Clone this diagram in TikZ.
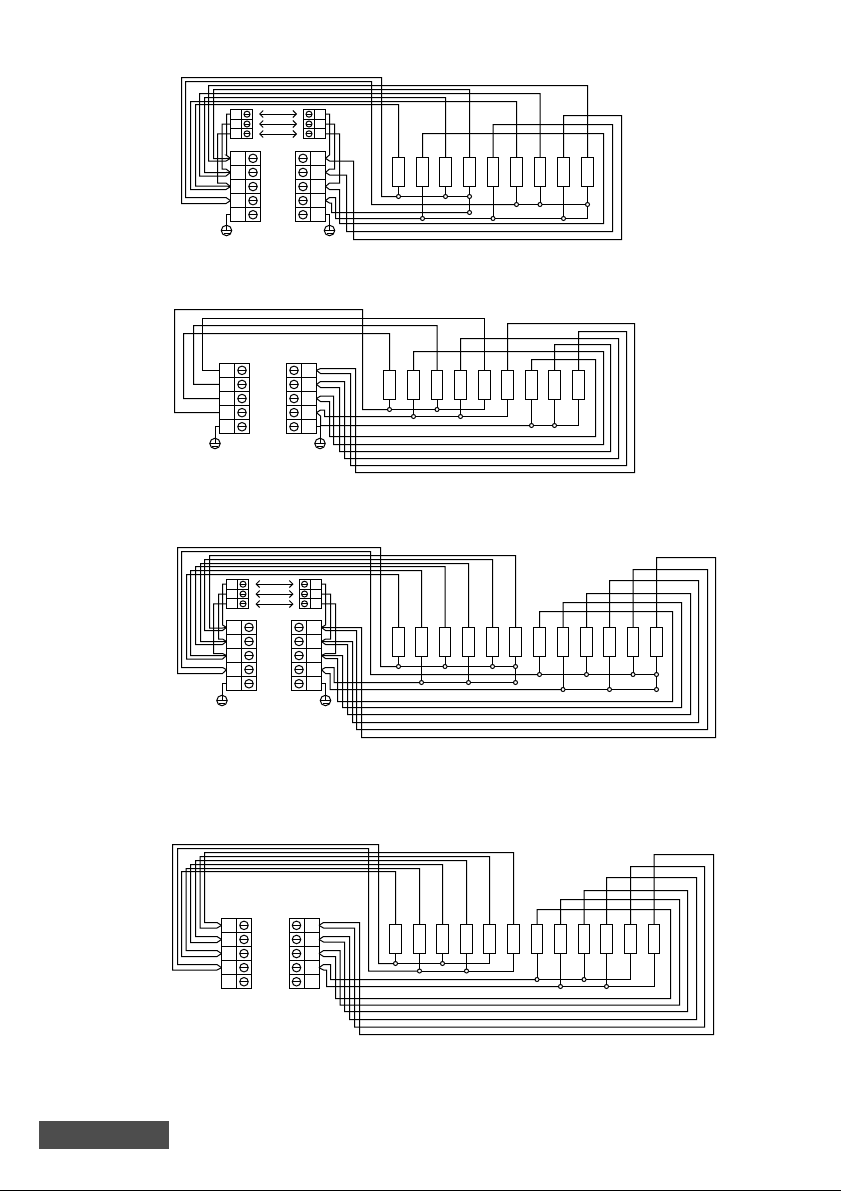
\documentclass[tikz,border=0pt]{standalone}
\usetikzlibrary{arrows.meta}
\tikzset{
  bigcell/.style={draw,minimum width=15pt,minimum height=14.1pt},
  smallcell/.style={draw,minimum width=11pt,minimum height=9.8pt},
  bigscrew/.style={draw,circle,minimum size=8.5pt,path picture={\draw (path picture bounding box.west) -- (path picture bounding box.east);}},
  smallscrew/.style={draw,circle,minimum size=6pt,path picture={\draw (path picture bounding box.west) -- (path picture bounding box.east);}},
  res/.style={draw,minimum width=11.5pt,minimum height=29pt},
  jun/.style={draw,circle,fill=white,minimum size=4pt},
  earth/.style={draw,circle,minimum size=10.5pt,path picture={
    \draw (path picture bounding box.west) -- (path picture bounding box.east);
    \draw (path picture bounding box.north) -- (path picture bounding box.center);
    \draw ([xshift=-3pt,yshift=-2.5pt]path picture bounding box.center) -- ([xshift=3pt,yshift=-2.5pt]path picture bounding box.center);}}
}
\definecolor{tabgray}{HTML}{4D4D4D}
% name, x of wire column, offset of screw column, top
\newcommand{\bigblock}[4]{
  \foreach \rw in {1,...,5}{
    \node[bigcell] (#1\rw) at (#2,#4+14.1*\rw-7.05) {};
    \node[bigcell] (#1s\rw) at (#2+#3,#4+14.1*\rw-7.05) {};
    \node[bigscrew] (#1c\rw) at (#1s\rw) {};
  }
}
\newcommand{\smallblock}[4]{
  \foreach \rw in {1,2,3}{
    \node[smallcell] (#1\rw) at (#2,#4+9.8*\rw-4.9) {};
    \node[smallcell] (#1s\rw) at (#2+#3,#4+9.8*\rw-4.9) {};
    \node[smallscrew] (#1c\rw) at (#1s\rw) {};
  }
}
% wires round the top, to the left blocks
\newcommand{\leftwires}[2]{
  \foreach \from/\yt/\xl/\yi/\term in {#2}
    \draw (\from) |- (\xl,\yt) |- (#1,\yi) -- (\term);
}
\newcommand{\junwires}[2]{
  \foreach \from/\xv/\yt/\xl/\yi/\term in {#2}
    \draw (\from) -| (\xv,\yt) -| (\xl,\yi) -- (#1,\yi) -- (\term);
}
% wires round the right side, to the right blocks
\newcommand{\rightwires}[2]{
  \foreach \from/\yt/\xr/\yb/\xv/\yi/\term in {#2}
    \draw (\from) |- (\xr,\yt) |- (\xv,\yb) |- (#1,\yi) -- (\term);
}
\newcommand{\sidewires}[2]{
  \foreach \from/\xv/\yi/\term in {#2}
    \draw (\from) -| (\xv,\yi) -- (#1,\yi) -- (\term);
}
\begin{document}
\begin{tikzpicture}[x=1pt,y=-1pt,line width=1pt,>={Straight Barb[length=3.5pt,width=7pt]},every node/.style={inner sep=0pt,outer sep=0pt}]
\useasboundingbox (0,0) rectangle (841,1191);

% first diagram
\bigblock{abl}{238}{15}{151.3}
\bigblock{abr}{318}{-15}{151.3}
\smallblock{asl}{236}{11}{109.3}
\smallblock{asr}{320}{-11}{109.3}
\foreach \i/\y in {1/114,2/124,3/134}{
  \coordinate (aa\i) at (259,\y);
  \coordinate (ab\i) at (297,\y);
  \draw [<->] (aa\i) -- (ab\i);
}
\node[earth] (ag1) at (226.5,230.5) {};
\node[earth] (ag2) at (329.5,230.5) {};
\draw (abl5.west) -| (ag1.north);
\draw (abr5.east) -| (ag2.north);
\foreach \i/\x in {1/398.5,2/422.5,3/445.5,4/469.5,5/493,6/516.5,7/540,8/563.5,9/587.5}
  \node[res] (ar\i) at (\x,172) {};
\foreach \i/\y in {1/196.5,3/196.5,4/196.5,6/204.5,7/204.5,9/204.5,2/218.5,5/218.5,8/218.5}{
  \node[jun] (aj\i) at (ar\i |- 0,\y) {};
  \draw (ar\i.south) -- (aj\i);
}
\node[jun] (ax4) at (ar4 |- 0,212.5) {};
\draw (aj1) -- (aj3) -- (aj4) -- (ax4);
\draw (aj6) -- (aj7) -- (aj9);
\draw (aj2) -- (aj5) -- (aj8) -| (aj9);
\leftwires{226}{ar9.north/85.5/208.5/161/abl1.west,ar4.north/89.5/213.5/158.5/abl1.west,
  ar7.north/93.5/199.5/176/abl2.west,ar3.north/97.5/204.5/172.5/abl2.west,
  ar6.north/101.5/190.5/189.5/abl3.west,ar1.north/104.5/195.5/186/abl3.west}
\junwires{226}{aj1/381.5/77.5/181.5/203.5/abl4.west,aj6/371.5/81.5/185.5/197.5/abl4.west}
\sidewires{226}{asl1.west/226.5/155/abl1.west,asl2.west/222/169/abl2.west,asl3.west/217.5/183/abl3.west}
\rightwires{329.5}{ar8.north/115.5/621.5/239.5/353.5/161/abr1.east,
  ar5.north/124.5/612.5/231.5/346.5/175/abr2.east,
  ar2.north/133.5/603.5/223.5/339.5/189.5/abr3.east}
\sidewires{329.5}{asr1.east/329.5/155/abr1.east,asr2.east/334.5/169/abr2.east,asr3.east/339.5/183/abr3.east,
  ax4/331.5/203/abr4.east,aj2/335.5/197.5/abr4.east}

% second diagram
\bigblock{bbl}{227}{15}{363.3}
\bigblock{bbr}{309}{-15}{363.3}
\node[earth] (bg1) at (215,443.5) {};
\node[earth] (bg2) at (320,443.5) {};
\draw (bbl5.west) -| (bg1.north);
\draw (bbr5.east) -| (bg2.north);
\foreach \i/\x in {1/389.5,2/413.5,3/437,4/460.5,5/484.5,6/507.5,7/531.5,8/554.5,9/578.5}
  \node[res] (br\i) at (\x,385) {};
\foreach \i/\y in {1/409.5,3/409.5,2/416.5,4/416.5,7/425.5,8/425.5}{
  \node[jun] (bj\i) at (br\i |- 0,\y) {};
  \draw (br\i.south) -- (bj\i);
}
\draw (bj1) -- (bj3) -| (br5.south);
\draw (bj2) -- (bj4) -| (br6.south);
\draw (bj7) -- (bj8) -| (br9.south);
\leftwires{215}{br5.north/318.5/202.5/370.35/bbl1.west,br3.north/325.5/193.5/384.45/bbl2.west,
  br1.north/333.5/183.5/398.55/bbl3.west}
\junwires{215}{bj1/362.5/309.5/174.5/412.65/bbl4.west}
\rightwires{320.5}{br6.north/323.5/634.5/472.5/355.5/368.5/bbr1.east,
  br9.north/331.5/626.5/465.5/350.5/373.5/bbr1.east,
  br4.north/338.5/618.5/458.5/344.5/381.5/bbr2.east,
  br8.north/344.5/610.5/451.5/339.5/387.5/bbr2.east,
  br2.north/351.5/603.5/444.5/333.5/396/bbr3.east,
  br7.north/359.5/595.5/436.5/329.5/401.5/bbr3.east}
\sidewires{320.5}{bj2/324.5/410/bbr4.east,bj7/320.5/416/bbr4.east}

% third diagram
\bigblock{cbl}{234}{15}{620.3}
\bigblock{cbr}{314}{-15}{620.3}
\smallblock{csl}{232}{11}{579.3}
\smallblock{csr}{315.5}{-11}{579.3}
\foreach \i/\y in {1/584,2/594,3/604}{
  \coordinate (ca\i) at (255.5,\y);
  \coordinate (cb\i) at (293.5,\y);
  \draw [<->] (ca\i) -- (cb\i);
}
\node[earth] (cg1) at (222,700.5) {};
\node[earth] (cg2) at (325.5,700.5) {};
\draw (cbl5.west) -| (cg1.north);
\draw (cbr5.east) -| (cg2.north);
\foreach \i/\x in {1/398.5,2/421.5,3/445,4/468.5,5/492.5,6/515.5,7/539.5,8/563,9/586.5,10/609.5,11/633,12/656.5}
  \node[res] (cr\i) at (\x,642) {};
\foreach \i/\y in {1/666.5,3/666.5,5/666.5,6/666.5,7/674.5,9/674.5,11/674.5,12/674.5,2/682.5,4/682.5,8/689.5,10/689.5}{
  \node[jun] (cj\i) at (cr\i |- 0,\y) {};
  \draw (cr\i.south) -- (cj\i);
}
\node[jun] (cx6) at (cr6 |- 0,682.5) {};
\node[jun] (cx12) at (cr12 |- 0,689.5) {};
\draw (cj1) -- (cj3) -- (cj5) -- (cj6) -- (cx6);
\draw (cj7) -- (cj9) -- (cj11) -- (cj12) -- (cx12);
\draw (cj2) -- (cj4) -- (cx6);
\draw (cj8) -- (cj10) -- (cx12);
\leftwires{222.5}{cr6.north/555.5/209.5/628/cbl1.west,cr5.north/559.5/204.5/630.5/cbl1.west,
  cr4.north/563.5/200.5/641.5/cbl2.west,cr3.north/566.5/195.5/644.5/cbl2.west,
  cr2.north/570.5/190.5/655.5/cbl3.west,cr1.north/574.5/186.5/659/cbl3.west}
\junwires{222.5}{cj1/380.5/547.5/177.5/673.5/cbl4.west,cj7/370.5/551.5/181.5/667.5/cbl4.west}
\sidewires{222.5}{csl1.west/222.5/625/cbl1.west,csl2.west/218.5/639/cbl2.west,csl3.west/213.5/653.5/cbl3.west}
\rightwires{325.5}{cr12.north/557.5/715.5/737.5/361.5/627.5/cbr1.east,
  cr11.north/569.5/707.5/729.5/356.5/630.5/cbr1.east,
  cr10.north/580.5/698.5/722.5/352.5/641.5/cbr2.east,
  cr9.north/593.5/690.5/714.5/347.5/644.5/cbr2.east,
  cr8.north/602.5/681.5/707.5/342.5/655.5/cbr3.east,
  cr7.north/611.5/672.5/701.5/337.5/658.5/cbr3.east}
\sidewires{325.5}{csr1.east/325.5/625/cbr1.east,csr2.east/330.5/639/cbr2.east,csr3.east/335.5/653.5/cbr3.east,
  cj2/334/667.5/cbr4.east,cj8/330/673.5/cbr4.east}

% fourth diagram
\bigblock{dbl}{229}{15}{918.3}
\bigblock{dbr}{311.5}{-15}{918.3}
\foreach \i/\x in {1/395.5,2/419.5,3/442.5,4/466.5,5/489.5,6/513.5,7/537,8/560.5,9/584,10/606.5,11/630.5,12/654}
  \node[res] (dr\i) at (\x,939) {};
\foreach \i/\y in {1/963.5,3/963.5,2/971,4/971,7/979.5,9/979.5,8/986.5,10/986.5}{
  \node[jun] (dj\i) at (dr\i |- 0,\y) {};
  \draw (dr\i.south) -- (dj\i);
}
\draw (dj1) -- (dj3) -| (dr5.south);
\draw (dj2) -- (dj4) -| (dr6.south);
\draw (dj7) -- (dj9) -| (dr11.south);
\draw (dj8) -- (dj10) -| (dr12.south);
\leftwires{217}{dr6.north/852.5/204.5/922.5/dbl1.west,dr5.north/856.5/200/928/dbl1.west,
  dr4.north/860.5/195.5/936.5/dbl2.west,dr3.north/864.5/190.5/942.5/dbl2.west,
  dr2.north/868.5/186/950.5/dbl3.west,dr1.north/871.5/181.5/956.5/dbl3.west}
\junwires{217}{dj1/378.5/844.5/172.5/970/dbl4.west,dj2/368.5/848.5/177.5/964.5/dbl4.west}
\rightwires{323.5}{dr12.north/854.5/713.5/1034.5/359.5/922.5/dbr1.east,
  dr11.north/866.5/704.5/1027/354.5/928/dbr1.east,
  dr10.north/877.5/696.5/1019.5/349.5/936.5/dbr2.east,
  dr9.north/890.5/687.5/1011.5/344.5/942/dbr2.east,
  dr8.north/899.5/679.5/1005/340/950.5/dbr3.east,
  dr7.north/909.5/670.5/998.5/335.5/956.5/dbr3.east}
\sidewires{323.5}{dj7/330.5/964.5/dbr4.east,dj8/326.5/970/dbr4.east}

% page furniture
\node[fill=tabgray,minimum width=130pt,minimum height=28pt] (tab) at (104,1135) {};
\coordinate (footl) at (0,1190);
\coordinate (footr) at (841,1190);
\draw (footl) -- (footr);
\end{tikzpicture}
\end{document}
